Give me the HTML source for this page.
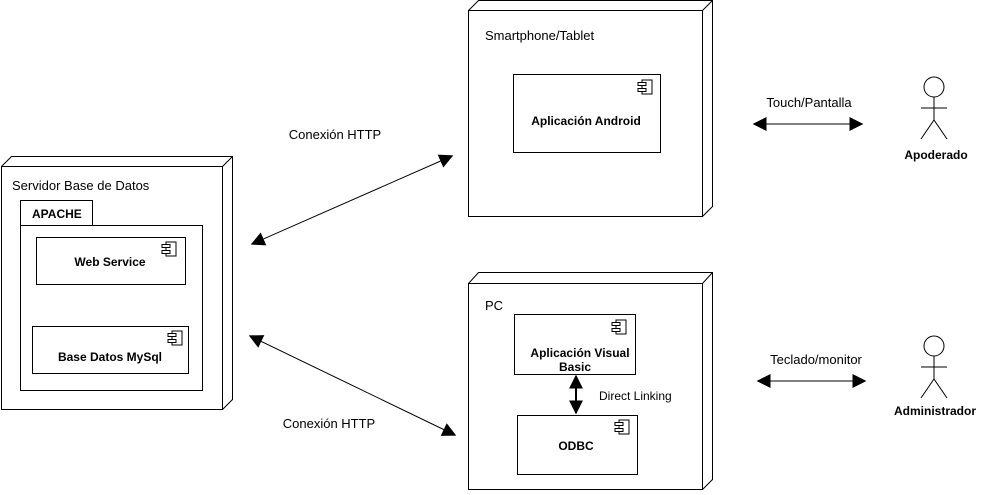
<!DOCTYPE html>
<html><head><meta charset="utf-8"><style>body{margin:0;background:#fff}svg{display:block}text{font-family:"Liberation Sans",Arial,sans-serif;font-size:13px;fill:#000}.b{font-weight:bold;font-size:12px}</style></head><body>
<svg width="985" height="495" viewBox="0 0 985 495" xmlns="http://www.w3.org/2000/svg">
<defs>
<marker id="a" viewBox="0 0 10 10" refX="9" refY="5" markerWidth="9" markerHeight="9" orient="auto-start-reverse" markerUnits="userSpaceOnUse"><path d="M0,0L10,5L0,10z" fill="#000"/></marker>
<marker id="b" viewBox="0 0 10 10" refX="9" refY="5" markerWidth="14" markerHeight="14" orient="auto-start-reverse" markerUnits="userSpaceOnUse"><path d="M0,0L10,5L0,10z" fill="#000"/></marker>
<g id="ci"><rect x="0" y="0" width="10" height="14" fill="#fff" stroke="#000"/><rect x="-4" y="2.5" width="8" height="3" fill="#fff" stroke="#000"/><rect x="-4" y="8.5" width="8" height="3" fill="#fff" stroke="#000"/></g>
</defs>
<g fill="#fff" stroke="#000" stroke-width="1">
<!-- server -->
<path d="M1.5,166.5L11.5,156.5H232.5V399.5L222.5,409.5" />
<path d="M222.5,166.5L232.5,156.5"/>
<rect x="1.5" y="166.5" width="221" height="243"/>
<rect x="20.5" y="200.5" width="72" height="25"/>
<rect x="20.5" y="225.5" width="182" height="165"/>
<rect x="36.5" y="237.5" width="149" height="47"/>
<rect x="32.5" y="326.5" width="156" height="47"/>
<!-- smartphone -->
<path d="M468.5,10.5L478.5,0.5H712.5V206.5L702.5,216.5"/>
<path d="M702.5,10.5L712.5,0.5"/>
<rect x="468.5" y="10.5" width="234" height="206"/>
<rect x="513.5" y="74.5" width="147" height="78"/>
<!-- pc -->
<path d="M468.5,283.5L478.5,272.5H712.5V479.5L702.5,489.5"/>
<path d="M702.5,283.5L712.5,272.5"/>
<rect x="468.5" y="283.5" width="234" height="206"/>
<rect x="514.5" y="314.5" width="121" height="60"/>
<rect x="517.5" y="415.5" width="120" height="59"/>
</g>
<use href="#ci" x="166" y="242"/>
<use href="#ci" x="172" y="331"/>
<use href="#ci" x="642" y="80"/>
<use href="#ci" x="616" y="320"/>
<use href="#ci" x="619" y="420"/>
<text x="12" y="190">Servidor Base de Datos</text>
<text x="32" y="218" class="b">APACHE</text>
<text x="110" y="266" class="b" text-anchor="middle">Web Service</text>
<text x="110" y="361" class="b" text-anchor="middle">Base Datos MySql</text>
<text x="485" y="40">Smartphone/Tablet</text>
<text x="586" y="125" class="b" text-anchor="middle">Aplicación Android</text>
<text x="485" y="310">PC</text>
<text x="580" y="357" class="b" text-anchor="middle">Aplicación  Visual</text>
<text x="575" y="371" class="b" text-anchor="middle">Basic</text>
<text x="576" y="450" class="b" text-anchor="middle">ODBC</text>
<text x="599" y="400" style="font-size:12px">Direct Linking</text>
<g stroke="#000" stroke-width="1">
<line x1="252" y1="244" x2="452" y2="156" marker-start="url(#b)" marker-end="url(#b)"/>
<line x1="250" y1="336" x2="455" y2="435" marker-start="url(#b)" marker-end="url(#b)"/>
<line x1="754" y1="124" x2="862" y2="124" marker-start="url(#b)" marker-end="url(#b)"/>
<line x1="758" y1="381" x2="865" y2="381" marker-start="url(#b)" marker-end="url(#b)"/>
<line x1="576" y1="376" x2="576" y2="413" stroke-width="2" marker-start="url(#b)" marker-end="url(#b)"/>
</g>
<text x="335" y="139" text-anchor="middle">Conexión HTTP</text>
<text x="329" y="428" text-anchor="middle">Conexión HTTP</text>
<text x="809" y="107" text-anchor="middle">Touch/Pantalla</text>
<text x="816" y="364" text-anchor="middle">Teclado/monitor</text>
<g fill="#fff" stroke="#000">
<circle cx="934" cy="87" r="10"/>
<path d="M934,97V120M921,108H947M934,120L921,139M934,120L947,139"/>
<circle cx="934" cy="346" r="10"/>
<path d="M934,356V379M921,367H947M934,379L921,398M934,379L947,398"/>
</g>
<text x="936" y="159" class="b" text-anchor="middle">Apoderado</text>
<text x="935" y="415" class="b" text-anchor="middle">Administrador</text>
</svg>
</body></html>
